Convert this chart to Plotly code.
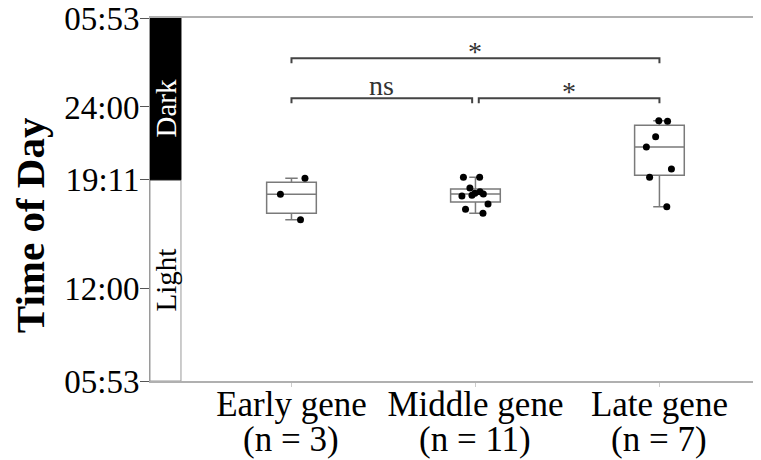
import plotly.graph_objects as go

# ---- data ----
categories = ["Early gene", "Middle gene", "Late gene"]
n_counts = [3, 11, 7]
# times of day in hours (values above 24 are after midnight)
early_times = [19.28, 18.23, 16.55]
middle_times = [19.35, 19.35, 18.64, 18.40, 18.29, 18.25, 18.16, 18.11, 17.59, 17.24, 16.97]
late_times = [23.09, 23.05, 22.04, 21.36, 19.90, 19.35, 17.41]
series = [early_times, middle_times, late_times]

y_tick_vals = [5.8833, 12.0, 19.1833, 24.0, 29.8833]
y_tick_text = ["05:53", "12:00", "19:11", "24:00", "05:53"]
lights_off = 19.1833
day_start = 5.8833
day_end = 29.8833

comparisons = [  # (from idx, to idx, label, level)
    (0, 2, "*", "high"),
    (0, 1, "ns", "low"),
    (1, 2, "*", "low"),
]

FONT = "Liberation Serif"
fig = go.Figure()

for cat, vals in zip(categories, series):
    fig.add_trace(go.Box(
        x=[cat] * len(vals), y=vals, name=cat,
        boxpoints="all", jitter=0.7, pointpos=0,
        marker=dict(color="black", size=7),
        line=dict(color="#7a7a7a", width=1.5),
        fillcolor="rgba(255,255,255,0)",
        width=0.27, whiskerwidth=0.25,
        showlegend=False,
    ))

shapes = []
# Light / Dark bar
shapes.append(dict(type="rect", xref="paper", yref="y", x0=0, x1=0.0507,
                   y0=day_start, y1=lights_off, fillcolor="white",
                   line=dict(color="#9a9a9a", width=1), layer="below"))
shapes.append(dict(type="rect", xref="paper", yref="y", x0=0, x1=0.0507,
                   y0=lights_off, y1=day_end, fillcolor="black",
                   line=dict(color="black", width=1), layer="below"))

annotations = []
levels = {"high": 27.22, "low": 24.57}
drop = 0.33
for i0, i1, lab, lev in comparisons:
    yb = levels[lev]
    xa = i0 + (0.018 if (lev == "low" and i0 == 1) else 0)
    xb = i1 - (0.018 if (lev == "low" and i1 == 1) else 0)
    shapes.append(dict(type="path", xref="x", yref="y",
                       path=f"M {xa},{yb-drop} L {xa},{yb} L {xb},{yb} L {xb},{yb-drop}",
                       line=dict(color="#444444", width=2)))
    annotations.append(dict(x=(xa + xb) / 2, y=yb, xref="x", yref="y",
                            text=lab, showarrow=False, yanchor="bottom", xanchor="center",
                            yshift=-5 if lab == "ns" else -11,
                            font=dict(family=FONT, size=28, color="#333")))

annotations.append(dict(x=0.0254, y=23.87, xref="paper", yref="y", text="Dark",
                        textangle=-90, showarrow=False, xanchor="center", yanchor="middle",
                        font=dict(family=FONT, size=29, color="white")))
annotations.append(dict(x=0.0254, y=12.56, xref="paper", yref="y", text="Light",
                        textangle=-90, showarrow=False, xanchor="center", yanchor="middle",
                        font=dict(family=FONT, size=29, color="black")))
annotations.append(dict(x=-0.196, y=16.2, xref="paper", yref="y", text="<b>Time of Day</b>",
                        textangle=-90, showarrow=False, xanchor="center", yanchor="middle",
                        font=dict(family=FONT, size=41, color="black")))
for c, n in zip(categories, n_counts):
    annotations.append(dict(x=c, y=-0.1625, xref="x", yref="paper", text=f"(n = {n})",
                            showarrow=False, xanchor="center", yanchor="middle",
                            font=dict(family=FONT, size=35, color="black")))

# the page body adds an 8px margin, so the figure is sized to fit the window
fig.update_layout(
    width=753, height=452,
    margin=dict(l=142, r=0, t=10, b=79),
    plot_bgcolor="white", paper_bgcolor="white",
    shapes=shapes, annotations=annotations,
    font=dict(family=FONT, color="black"),
    xaxis=dict(type="category", categoryorder="array", categoryarray=categories,
               range=[-0.769, 2.552], automargin=False,
               tickvals=categories, ticktext=categories, ticklabelstandoff=-13,
               tickfont=dict(family=FONT, size=35, color="black"),
               showline=True, linecolor="#b0b0b0", linewidth=1.5, mirror=True,
               ticks="outside", ticklen=4, tickcolor="#cccccc", showgrid=False),
    yaxis=dict(range=[day_start, day_end], tickvals=y_tick_vals, ticktext=y_tick_text,
               automargin=False, ticklabelstandoff=-6, ticklabeloverflow="allow",
               tickfont=dict(family=FONT, size=33, color="black"),
               showline=True, linecolor="#9a9a9a", linewidth=1,
               ticks="outside", ticklen=9, tickcolor="#555555",
               showgrid=False, zeroline=False),
)

fig.write_html("out.html")
